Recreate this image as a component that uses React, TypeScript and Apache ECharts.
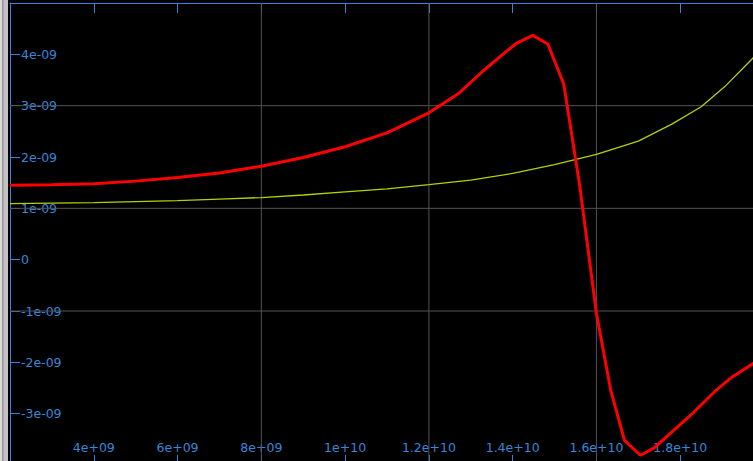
import React, { useEffect, useRef } from "react";
import * as echarts from "echarts";

// Red trace: frequency (Hz) and value
const redX = [
  2.0e9, 3.0e9, 4.0e9, 5.0e9, 6.0e9, 7.0e9, 8.0e9, 9.0e9, 10.0e9, 11.0e9,
  12.0e9, 12.7e9, 13.3e9, 13.9e9, 14.1e9, 14.48e9, 14.84e9, 15.22e9, 15.6e9,
  16.0e9, 16.34e9, 16.67e9, 17.05e9, 17.37e9, 18.25e9, 18.86e9, 19.25e9,
  19.75e9, 20.0e9,
];
const redY = [
  1.45e-9, 1.46e-9, 1.48e-9, 1.53e-9, 1.6e-9, 1.69e-9, 1.82e-9, 1.99e-9,
  2.2e-9, 2.47e-9, 2.86e-9, 3.23e-9, 3.68e-9, 4.09e-9, 4.22e-9, 4.37e-9,
  4.2e-9, 3.42e-9, 1.45e-9, -1.05e-9, -2.54e-9, -3.52e-9, -3.81e-9, -3.67e-9,
  -3.03e-9, -2.54e-9, -2.28e-9, -2.02e-9, -1.88e-9,
];

// Yellow-green trace
const yellowX = [
  2.0e9, 3.0e9, 4.0e9, 5.0e9, 6.0e9, 7.0e9, 8.0e9, 9.0e9, 10.0e9, 11.0e9,
  12.0e9, 13.0e9, 14.0e9, 15.0e9, 16.0e9, 17.0e9, 17.8e9, 18.5e9, 19.1e9,
  19.75e9, 20.0e9,
];
const yellowY = [
  1.09e-9, 1.1e-9, 1.11e-9, 1.13e-9, 1.15e-9, 1.18e-9, 1.21e-9, 1.26e-9,
  1.32e-9, 1.38e-9, 1.46e-9, 1.55e-9, 1.68e-9, 1.85e-9, 2.05e-9, 2.31e-9,
  2.64e-9, 2.98e-9, 3.4e-9, 3.94e-9, 4.17e-9,
];

// Axis extents and grid line positions
const xRange = [2e9, 2e10];
const yRange = [-4e-9, 5e-9];
const xStep = 2e9;
const yStep = 1e-9;
const gridX = [8e9, 1.2e10, 1.6e10];
const gridY = [3e-9, 1e-9, -1e-9];

const AXIS_BLUE = "#3484dc";
const LABEL_BLUE = "#3a86d8";
const GRID_GRAY = "#525252";

// C-style %g exponent formatting: 4e+09, 1.2e+10, -1e-09
function sci(v: number): string {
  if (v === 0) return "0";
  const e = Math.floor(Math.log10(Math.abs(v)) + 1e-9);
  const m = parseFloat((v / Math.pow(10, e)).toPrecision(6));
  const sign = e < 0 ? "-" : "+";
  const ex = String(Math.abs(e)).padStart(2, "0");
  return `${m}e${sign}${ex}`;
}

const labelFont = {
  color: LABEL_BLUE,
  fontFamily: "DejaVu Sans",
  fontSize: 12.5,
};

export default function App() {
  const ref = useRef<HTMLDivElement>(null);

  useEffect(() => {
    if (!ref.current) return;
    const chart = echarts.init(ref.current, undefined, { renderer: "svg" });

    const pairs = (xs: number[], ys: number[]) => xs.map((x, i) => [x, ys[i]]);

    const baseX = {
      type: "value" as const,
      min: xRange[0],
      max: xRange[1],
      interval: xStep,
      axisLine: { show: true, onZero: false, lineStyle: { color: AXIS_BLUE, width: 1 } },
      axisTick: { show: true, inside: true, length: 10, lineStyle: { color: AXIS_BLUE } },
      splitLine: { show: false },
    };
    const baseY = {
      type: "value" as const,
      min: yRange[0],
      max: yRange[1],
      interval: yStep,
      axisLine: { show: true, onZero: false, lineStyle: { color: AXIS_BLUE, width: 1 } },
      axisTick: { show: true, inside: true, length: 10, lineStyle: { color: AXIS_BLUE } },
      splitLine: { show: false },
    };

    // Grid lines drawn as plain two-point line series through the axes
    const gridSeries = [
      ...gridX.map((x) => [[x, yRange[0]], [x, yRange[1]]]),
      ...gridY.map((y) => [[xRange[0], y], [xRange[1], y]]),
    ].map((data) => ({
      type: "line" as const,
      data,
      showSymbol: false,
      silent: true,
      z: 1,
      lineStyle: { color: GRID_GRAY, width: 1 },
    }));

    chart.setOption({
      animation: false,
      backgroundColor: "#000000",
      grid: { left: 10, top: 3, width: 754, height: 462, containLabel: false },
      xAxis: [
        {
          ...baseX,
          position: "bottom",
          axisLabel: {
            ...labelFont,
            inside: true,
            margin: 11,
            showMinLabel: false,
            showMaxLabel: false,
            formatter: (v: number) => sci(v),
          },
        },
        { ...baseX, position: "top", axisLabel: { show: false } },
      ],
      yAxis: [
        {
          ...baseY,
          position: "left",
          axisLabel: {
            ...labelFont,
            inside: true,
            margin: 11,
            showMinLabel: false,
            showMaxLabel: false,
            formatter: (v: number) => sci(v),
          },
        },
        { ...baseY, position: "right", axisLabel: { show: false } },
      ],
      graphic: [
        { type: "rect", shape: { x: 0, y: 0, width: 8, height: 480 }, style: { fill: "#c2c2c2" }, z: 100 },
        { type: "rect", shape: { x: 0, y: 0, width: 2, height: 480 }, style: { fill: "#dadada" }, z: 101 },
        { type: "rect", shape: { x: 2, y: 0, width: 1.5, height: 480 }, style: { fill: "#949494" }, z: 101 },
      ],
      series: [
        ...gridSeries,
        {
          type: "line",
          data: pairs(yellowX, yellowY),
          showSymbol: false,
          z: 3,
          lineStyle: { color: "#b2d200", width: 1.3 },
        },
        {
          type: "line",
          data: pairs(redX, redY),
          showSymbol: false,
          z: 4,
          lineStyle: { color: "#ff0000", width: 3 },
        },
      ],
    });

    return () => chart.dispose();
  }, []);

  return (
    <div
      style={{
        position: "fixed",
        left: 0,
        top: 0,
        width: 753,
        height: 461,
        overflow: "hidden",
        background: "#000",
      }}
    >
      <div ref={ref} style={{ width: 780, height: 480 }} />
    </div>
  );
}
